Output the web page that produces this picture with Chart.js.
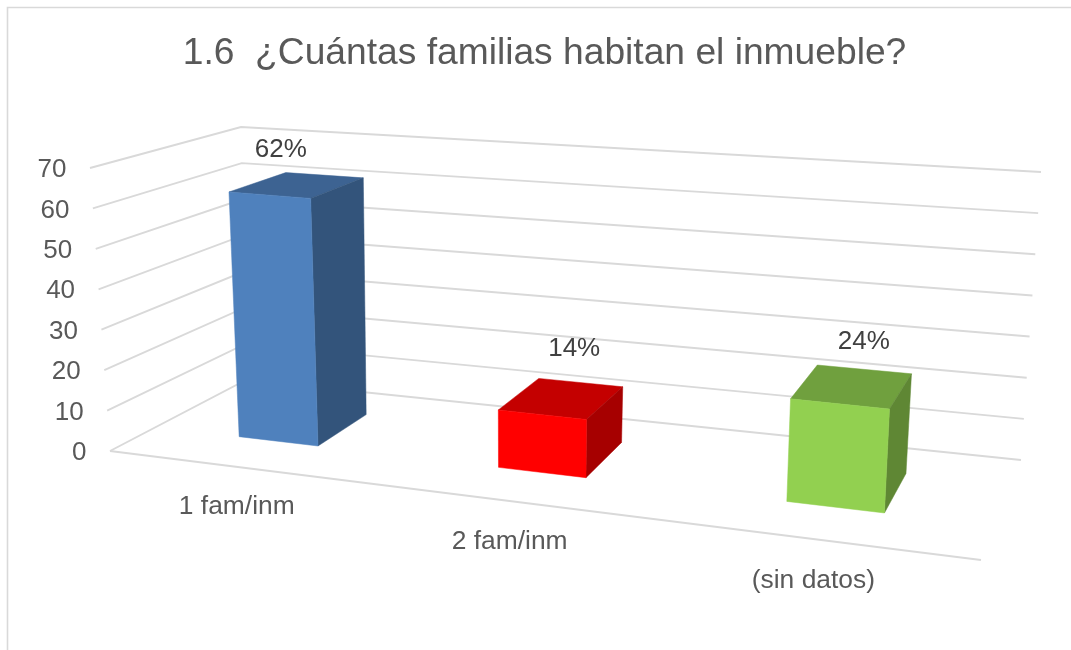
<!DOCTYPE html>
<html>
<head>
<meta charset="utf-8">
<style>html,body{margin:0;padding:0;background:#fff}canvas{display:block}</style>
<script src="https://cdn.jsdelivr.net/npm/chart.js@4"></script>
</head>
<body>
<canvas id="c" width="1071" height="650"></canvas>
<script>
// ---- data ----
const titleText = '1.6  ¿Cuántas familias habitan el inmueble?';
const categories = ['1 fam/inm', '2 fam/inm', '(sin datos)'];
const values = [62, 14, 24];
const dataLabels = ['62%', '14%', '24%'];
const axisMax = 70;
const axisStep = 10;
const barColors = ['#4F81BD', '#FF0000', '#92D050'];

// ---- oblique 3D view of the plot box ----
const boxCorners = {
  frontLeft:  [[110, 451], [90, 168]],
  backLeft:   [[246, 380], [241, 127]],
  backRight:  [[1021, 460], [1041, 172]],
  frontRight: [[981, 560], [1000, 242]]
};
const foreshorten = 1.174;
const depthFront = 0.34, depthBack = 0.75;
const labelNudge = [[-16, -35], [13, -50], [12, -45]];
const gridColor = '#D9D9D9';
const FONT = '"Liberation Sans", Arial, sans-serif';

function mix(a, b, f) { return [a[0] + (b[0] - a[0]) * f, a[1] + (b[1] - a[1]) * f]; }
function project(t, v, w) {
  const u = t / (t + foreshorten * (1 - t));
  const c = boxCorners;
  const at = k => mix(c[k][0], c[k][1], v);
  return mix(mix(at('frontLeft'), at('frontRight'), u), mix(at('backLeft'), at('backRight'), u), w);
}
function shade(hex, f) {
  const n = parseInt(hex.slice(1), 16);
  return 'rgb(' + [n >> 16, (n >> 8) & 255, n & 255].map(x => Math.round(x * f)).join(',') + ')';
}
function poly(ctx, pts, fill) {
  ctx.beginPath();
  pts.forEach((p, i) => i ? ctx.lineTo(p[0], p[1]) : ctx.moveTo(p[0], p[1]));
  ctx.closePath();
  ctx.fillStyle = fill;
  ctx.strokeStyle = fill;
  ctx.lineWidth = 0.5;
  ctx.fill();
  ctx.stroke();
}
function normOf(chart, px, py) {
  const a = chart.chartArea;
  return [(px - a.left) / a.width, (a.bottom - py) / a.height];
}

// every bar is drawn by its own element, as a box in the projected view
Chart.BarElement.prototype.draw = function (ctx) {
  const chart = this.$context.chart;
  const g = this.getProps(['x', 'y', 'base', 'width'], true);
  const t0 = normOf(chart, g.x - g.width / 2, g.y)[0];
  const t1 = normOf(chart, g.x + g.width / 2, g.y)[0];
  const v1 = normOf(chart, g.x, g.y)[1];
  const v0 = normOf(chart, g.x, g.base)[1];
  const col = this.options.backgroundColor;
  const P = (t, v, w) => project(t, v, w);
  ctx.save();
  poly(ctx, [P(t0, v1, depthFront), P(t1, v1, depthFront), P(t1, v1, depthBack), P(t0, v1, depthBack)], shade(col, 0.77));
  poly(ctx, [P(t1, v0, depthFront), P(t1, v1, depthFront), P(t1, v1, depthBack), P(t1, v0, depthBack)], shade(col, 0.65));
  poly(ctx, [P(t0, v0, depthFront), P(t1, v0, depthFront), P(t1, v1, depthFront), P(t0, v1, depthFront)], col);
  ctx.restore();
};

const placed = new WeakSet();
const view3d = {
  id: 'view3d',
  beforeDraw(chart) {
    const ctx = chart.ctx, xs = chart.scales.x, ys = chart.scales.y, a = chart.chartArea;
    // outer frame
    ctx.save();
    ctx.strokeStyle = gridColor;
    ctx.lineWidth = 1.6;
    ctx.beginPath();
    ctx.moveTo(7.5, chart.height);
    ctx.lineTo(7.5, 7.5);
    ctx.lineTo(chart.width, 7.5);
    ctx.stroke();
    ctx.restore();
    // axis labels stay the scales' own, moved on to the projected walls
    const yi = ys.getLabelItems();
    if (!placed.has(yi)) {
      placed.add(yi);
      yi.forEach((it, i) => {
        const v = (a.bottom - ys.getPixelForTick(i)) / a.height;
        it.options.translation = [project(0, v, 0)[0] - 23.5, ys.getPixelForTick(i) + 2];
        it.options.textAlign = 'right';
        it.options.textBaseline = 'middle';
        it.textOffset = 0;
      });
    }
    const xi = xs.getLabelItems();
    if (!placed.has(xi)) {
      placed.add(xi);
      xi.forEach((it, i) => {
        const t = (xs.getPixelForTick(i) - a.left) / a.width;
        const p = project(t, 0, 0);
        it.options.translation = [p[0] - i, p[1] + 40 + i * 0.7];
        it.options.textAlign = 'center';
        it.options.textBaseline = 'middle';
        it.textOffset = 0;
      });
    }
  },
  beforeDatasetsDraw(chart) {
    const ctx = chart.ctx, ys = chart.scales.y, a = chart.chartArea;
    ctx.save();
    ctx.strokeStyle = gridColor;
    ctx.lineWidth = 1.9;
    ctx.lineJoin = 'miter';
    ys.ticks.forEach(tick => {
      const v = (a.bottom - ys.getPixelForValue(tick.value)) / a.height;
      const p0 = project(0, v, 0), p1 = project(0, v, 1), p2 = project(1, v, 1);
      ctx.beginPath();
      ctx.moveTo(p0[0], p0[1]);
      ctx.lineTo(p1[0], p1[1]);
      ctx.lineTo(p2[0], p2[1]);
      ctx.stroke();
    });
    const f0 = project(0, 0, 0), f1 = project(1, 0, 0);
    ctx.beginPath();
    ctx.moveTo(f0[0], f0[1]);
    ctx.lineTo(f1[0], f1[1]);
    ctx.stroke();
    ctx.restore();
  },
  afterDatasetsDraw(chart) {
    const ctx = chart.ctx;
    ctx.save();
    ctx.font = '26px ' + FONT;
    ctx.fillStyle = '#404040';
    ctx.textAlign = 'center';
    ctx.textBaseline = 'middle';
    chart.getDatasetMeta(0).data.forEach((el, i) => {
      const n = normOf(chart, el.x, el.y);
      const p = project(n[0], n[1], (depthFront + depthBack) / 2);
      ctx.fillText(dataLabels[i], p[0] + labelNudge[i][0], p[1] + labelNudge[i][1]);
    });
    ctx.restore();
  }
};

new Chart(document.getElementById('c'), {
  type: 'bar',
  data: {
    labels: categories,
    datasets: [{ data: values, backgroundColor: barColors, barPercentage: 0.315, categoryPercentage: 1, clip: false }]
  },
  plugins: [view3d],
  options: {
    responsive: false,
    animation: false,
    events: [],
    layout: { padding: { left: 18, right: 0, top: 0, bottom: 0 } },
    plugins: {
      legend: { display: false },
      tooltip: { enabled: false },
      title: {
        display: true,
        text: titleText,
        color: '#595959',
        font: { family: FONT, size: 37.2, weight: 'normal', lineHeight: 1.2 },
        padding: { top: 31, bottom: 92.36 }
      }
    },
    scales: {
      x: {
        grid: { display: false },
        border: { display: false },
        ticks: { color: '#595959', font: { family: FONT, size: 26.4 }, maxRotation: 0, autoSkip: false },
        afterFit: s => { s.height = 199; }
      },
      y: {
        min: 0,
        max: axisMax,
        grid: { display: false },
        border: { display: false },
        ticks: { stepSize: axisStep, color: '#595959', font: { family: FONT, size: 26 } },
        afterFit: s => { s.width = 92; }
      },
      rightMargin: {
        position: 'right',
        display: true,
        grid: { display: false },
        border: { display: false },
        ticks: { display: false },
        afterFit: s => { s.width = 90; }
      }
    }
  }
});
</script>
</body>
</html>
